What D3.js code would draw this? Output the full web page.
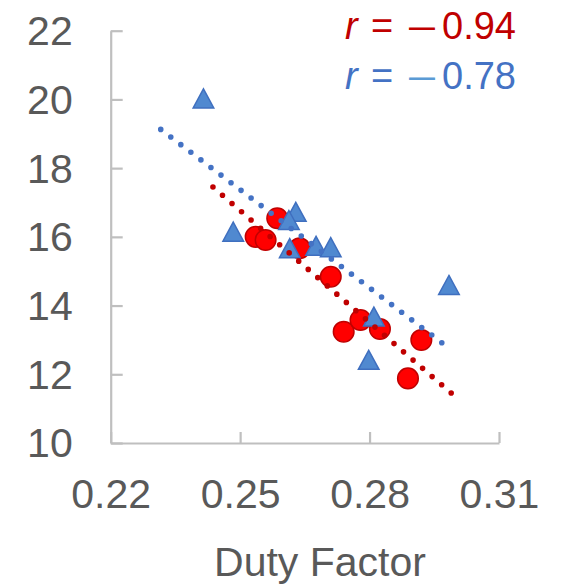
<!DOCTYPE html>
<html>
<head>
<meta charset="utf-8">
<script src="https://cdn.jsdelivr.net/npm/d3@7"></script>
<style>
  body { margin: 0; background: #fff; }
  text { font-family: "Liberation Sans", Arial, sans-serif; }
</style>
</head>
<body>
<div id="chart"></div>
<script>
// duty factor (x) vs value (y)
const redX = [0.2586, 0.2536, 0.2559, 0.2638, 0.2710, 0.2740, 0.2779, 0.2824, 0.2920, 0.2889];
const redY = [16.54, 16.00, 15.91, 15.67, 14.84, 13.24, 13.58, 13.32, 13.00, 11.88];

const blueX = [0.2415, 0.2484, 0.2629, 0.2613, 0.2615, 0.2676, 0.2710, 0.2810, 0.2798, 0.2984];
const blueY = [20.03, 16.15, 16.73, 16.49, 15.67, 15.74, 15.70, 13.68, 12.42, 14.60];

// x extent of the linear trend lines
const redTrendX = [0.2437, 0.3000];
const blueTrendX = [0.2316, 0.2976];

const xTicks = [0.22, 0.25, 0.28, 0.31];
const yTicks = [10, 12, 14, 16, 18, 20, 22];

const redLabel = "\u20130.94";
const blueLabel = "\u20130.78";

const width = 564, height = 588;
const margin = {top: 30.7, right: 65, bottom: 145, left: 110.7};

const svg = d3.select("#chart")
  .append("svg")
    .attr("width", width)
    .attr("height", height);

const x = d3.scaleLinear()
  .domain([0.22, 0.31])
  .range([margin.left, width - margin.right]);

const y = d3.scaleLinear()
  .domain([10, 22])
  .range([height - margin.bottom, margin.top]);

const axisColor = "#bfbfbf";
const textColor = "#595959";

const xAxis = d3.axisBottom(x)
  .tickValues(xTicks)
  .tickSize(-11)
  .tickSizeOuter(0)
  .tickPadding(36)
  .tickFormat(d3.format(".2f"));

svg.append("g")
  .attr("transform", `translate(0, ${y(10)})`)
  .call(xAxis)
  .call(g => g.selectAll("path, line").attr("stroke", axisColor).attr("stroke-width", 2.2))
  .call(g => g.selectAll("text")
    .attr("fill", textColor)
    .style("font-size", "41px")
    .style("font-family", "'Liberation Sans', Arial, sans-serif"));

const yAxis = d3.axisLeft(y)
  .tickValues(yTicks)
  .tickSize(-12)
  .tickSizeOuter(0)
  .tickPadding(38);

svg.append("g")
  .attr("transform", `translate(${x(0.22)}, 0)`)
  .call(yAxis)
  .call(g => g.selectAll("path, line").attr("stroke", axisColor).attr("stroke-width", 2.2))
  .call(g => g.selectAll("text")
    .attr("fill", textColor)
    .attr("dy", "0.34em")
    .style("font-size", "41px")
    .style("font-family", "'Liberation Sans', Arial, sans-serif"));

svg.append("text")
  .attr("x", 320)
  .attr("y", 576)
  .attr("text-anchor", "middle")
  .attr("fill", textColor)
  .style("font-size", "41px")
  .text("Duty Factor");

// markers
const red = redX.map((v, i) => [v, redY[i]]);
const blue = blueX.map((v, i) => [v, blueY[i]]);

svg.append("g")
  .selectAll("circle")
  .data(red)
  .join("circle")
    .attr("cx", d => x(d[0]))
    .attr("cy", d => y(d[1]))
    .attr("r", 10.3)
    .attr("fill", "#ff0000")
    .attr("stroke", "#c00000")
    .attr("stroke-width", 1.5);

const tri = "M0,-9.5L10.3,9.5L-10.3,9.5Z";
svg.append("g")
  .selectAll("path")
  .data(blue)
  .join("path")
    .attr("d", tri)
    .attr("transform", d => `translate(${x(d[0])}, ${y(d[1])})`)
    .attr("fill", "#5089d0")
    .attr("stroke", "#3f6fbf")
    .attr("stroke-width", 1.5);

// least squares trend lines
function fit(pts) {
  const mx = d3.mean(pts, d => d[0]);
  const my = d3.mean(pts, d => d[1]);
  const sxy = d3.sum(pts, d => (d[0] - mx) * (d[1] - my));
  const sxx = d3.sum(pts, d => (d[0] - mx) * (d[0] - mx));
  const b = sxy / sxx;
  return v => my + b * (v - mx);
}

const line = d3.line().x(d => x(d[0])).y(d => y(d[1]));

[[red, redTrendX, "#c00000"], [blue, blueTrendX, "#4472c4"]].forEach(([pts, ext, color]) => {
  const f = fit(pts);
  svg.append("path")
    .datum(ext.map(v => [v, f(v)]))
    .attr("d", line)
    .attr("fill", "none")
    .attr("stroke", color)
    .attr("stroke-width", 5.6)
    .attr("stroke-linecap", "round")
    .attr("stroke-dasharray", "0 12.6");
});

// correlation labels
function rLabel(yPos, color, dashColor, value) {
  const t = svg.append("text")
    .attr("y", yPos)
    .attr("fill", color)
    .style("font-size", "38px");
  t.append("tspan").attr("x", 345).style("font-style", "italic").text("r");
  t.append("tspan").attr("x", 371).text("=");
  t.append("tspan").attr("x", 409).attr("fill", dashColor).text(value.slice(0, 1))
    .attr("textLength", 26).attr("lengthAdjust", "spacingAndGlyphs");
  t.append("tspan").attr("x", 442).text(value.slice(1));
}

rLabel(39.3, "#c00000", "#c00000", redLabel);
rLabel(89.3, "#4472c4", "#5b9bd5", blueLabel);
</script>
</body>
</html>
